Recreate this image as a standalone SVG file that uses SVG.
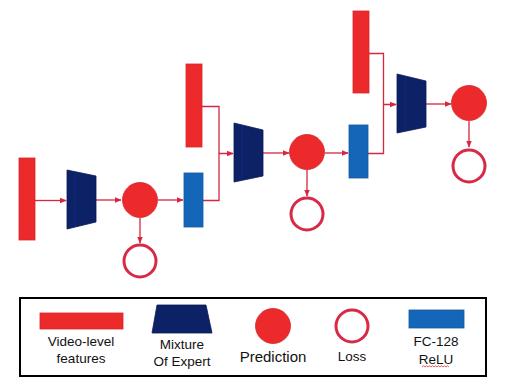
<svg xmlns="http://www.w3.org/2000/svg" width="509" height="387" viewBox="0 0 509 387">
<defs>
<marker id="ah" viewBox="0 0 10 10" refX="9" refY="5" markerWidth="7" markerHeight="7" orient="auto" markerUnits="userSpaceOnUse">
<path d="M0,1 L10,5 L0,9 z" fill="#d7263f"/>
</marker>
</defs>
<style>
.feat{fill:#ec2a2c;stroke:#d92428;stroke-width:0.8}
.fc{fill:#1467b8;stroke:#0f57a0;stroke-width:0.8}
.moe{fill:#0c2166;stroke:#0a1b55;stroke-width:0.8}
.moeline{stroke:#10297a;stroke-width:1}
.pred{fill:#ec2a2c;stroke:#d42730;stroke-width:0.8}
.loss{fill:#fff;stroke:#d82946;stroke-width:3}
.conn{fill:none;stroke:#d7263f;stroke-width:1.3}
.lbl{font-family:"Liberation Sans",Arial,sans-serif;font-size:13.5px;fill:#111;text-anchor:middle}
</style>
<rect width="509" height="387" fill="#fff"/>
<g id="connectors">
<path class="conn" d="M35,200.5 H66" marker-end="url(#ah)"/>
<path class="conn" d="M96,200 H121" marker-end="url(#ah)"/>
<path class="conn" d="M158,200 H183" marker-end="url(#ah)"/>
<path class="conn" d="M140,218 V243" marker-end="url(#ah)"/>
<path class="conn" d="M203,200.5 H219 V153.5 H233" marker-end="url(#ah)"/>
<path class="conn" d="M202,106.5 H219 V153.5"/>
<path class="conn" d="M263,153 H289" marker-end="url(#ah)"/>
<path class="conn" d="M325,153 H348" marker-end="url(#ah)"/>
<path class="conn" d="M307,169 V196" marker-end="url(#ah)"/>
<path class="conn" d="M368,153.5 H383.5 V104.5 H396" marker-end="url(#ah)"/>
<path class="conn" d="M369,53.5 H383.5 V104.5"/>
<path class="conn" d="M426,104 H451" marker-end="url(#ah)"/>
<path class="conn" d="M469,121 V147" marker-end="url(#ah)"/>
</g>
<g id="feat1"><rect class="feat" x="19" y="158" width="16" height="82"/></g>
<g id="moe1"><polygon class="moe" points="67,170 96,176 96,222 67,229"/><line class="moeline" x1="75" y1="172" x2="75" y2="227"/></g>
<g id="pred1"><circle class="pred" cx="140" cy="200" r="17.5"/></g>
<g id="loss1"><circle class="loss" cx="140" cy="261" r="16"/></g>
<g id="fc1"><rect class="fc" x="184" y="173" width="19" height="54"/></g>
<g id="feat2"><rect class="feat" x="186" y="64" width="16" height="83"/></g>
<g id="moe2"><polygon class="moe" points="234,123 263,130 263,176 234,182"/><line class="moeline" x1="242" y1="125" x2="242" y2="180"/></g>
<g id="pred2"><circle class="pred" cx="307" cy="152" r="17.5"/></g>
<g id="loss2"><circle class="loss" cx="307" cy="214" r="16"/></g>
<g id="fc2"><rect class="fc" x="349" y="125" width="19" height="53"/></g>
<g id="feat3"><rect class="feat" x="353" y="11" width="16" height="82"/></g>
<g id="moe3"><polygon class="moe" points="397,74 426,81 426,127 397,133"/><line class="moeline" x1="405" y1="76" x2="405" y2="131"/></g>
<g id="pred3"><circle class="pred" cx="469" cy="103" r="17.5"/></g>
<g id="loss3"><circle class="loss" cx="469" cy="166" r="16"/></g>
<g id="legend">
<rect x="20" y="298" width="466" height="78" fill="none" stroke="#000" stroke-width="2"/>
<rect class="feat" x="40" y="313" width="83" height="16"/>
<text class="lbl" x="81" y="346">Video-level</text>
<text class="lbl" x="81" y="363">features</text>
<polygon class="moe" points="157,305 206,305 212,333 152,333"/>
<text class="lbl" x="182" y="349">Mixture</text>
<text class="lbl" x="182" y="366">Of Expert</text>
<circle class="pred" cx="273" cy="326" r="17.5"/>
<text class="lbl" x="273" y="362" style="font-size:15px">Prediction</text>
<circle class="loss" cx="352" cy="326" r="16"/>
<text class="lbl" x="352" y="361">Loss</text>
<rect class="fc" x="409" y="310" width="55" height="18"/>
<text class="lbl" x="436" y="346">FC-128</text>
<text class="lbl" x="436" y="364">ReLU</text>
<path d="M422,367 l1.5,-1.2 l1.5,1.2 l1.5,-1.2 l1.5,1.2 l1.5,-1.2 l1.5,1.2 l1.5,-1.2 l1.5,1.2 l1.5,-1.2 l1.5,1.2 l1.5,-1.2 l1.5,1.2 l1.5,-1.2 l1.5,1.2 l1.5,-1.2 l1.5,1.2 l1.5,-1.2 l1.5,1.2" fill="none" stroke="#e03030" stroke-width="0.8"/>
</g>
</svg>
